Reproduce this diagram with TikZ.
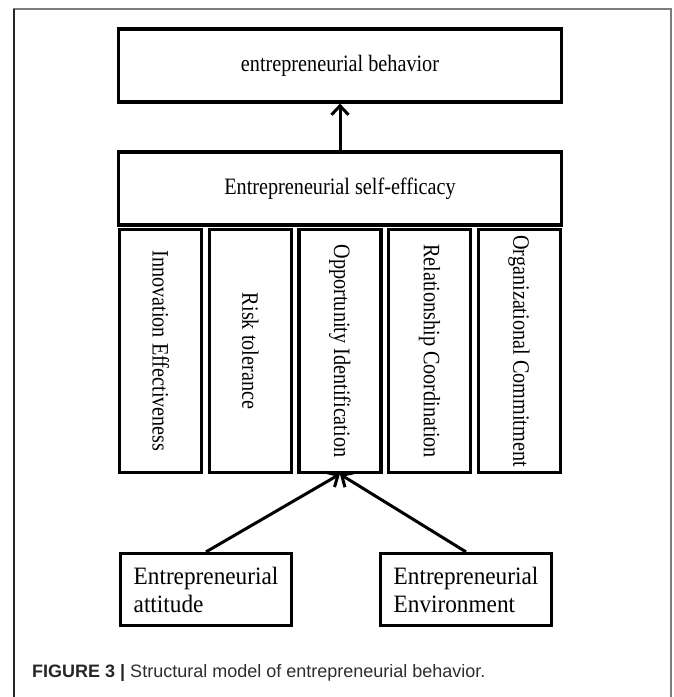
\documentclass[tikz,border=0pt]{standalone}
\usepackage{fontspec}
\setmainfont{Liberation Serif}
\newfontfamily\boxfont{Liberation Serif}[FakeStretch=0.86]
\newfontfamily\srcfont{Liberation Serif}[FakeStretch=0.93]
\newfontfamily\capfont{Liberation Sans}
\usepackage{tikz}
\usetikzlibrary{shapes,arrows,arrows.meta}
\definecolor{framegray}{RGB}{125,125,125}
\definecolor{captext}{RGB}{45,45,45}

\begin{document}
\begin{tikzpicture}
	[
	x = 1pt, y = -1pt,
	box/.style = {draw, line width = 3.2pt, inner sep = 0pt},
	widebox/.style = {box, minimum width = 443pt, minimum height = 73pt, font = \boxfont\fontsize{23.5}{27}\selectfont},
	dimbox/.style = {box, minimum width = 82pt, minimum height = 243pt, font = \boxfont\fontsize{23.5}{27}\selectfont},
	srcbox/.style = {box, minimum width = 171pt, minimum height = 72pt, align = left, font = \srcfont\fontsize{25}{28}\selectfont},
	link/.style = {line width = 3pt, -{Straight Barb[length = 9pt, width = 17pt]}}
	]
	
	\useasboundingbox (0,0) rectangle (673,697);
	
	% page frame, open at the bottom
	\draw [framegray, line width = 1.5pt] (14,697) -- (14,9) -- (671,9) -- (671,697);
	\draw [black!85, line width = 1.5pt] (14,9) -- (14,697);
	
	\node [widebox] (behaviour) at (340,65.5) {entrepreneurial behavior};
	\node [widebox] (efficacy) at (340,188.5) {Entrepreneurial self-efficacy};
	
	\foreach \dimtext [count = \i] in {Innovation Effectiveness, Risk tolerance, Opportunity Identification, Relationship Coordination, Organizational Commitment}
		\node [dimbox] (dim\i) at ({160.7 + 89.6*(\i-1)},351) {\rotatebox{-90}{\dimtext}};
	
	\node [srcbox] (attitude) at (206,589.5) {Entrepreneurial\\attitude};
	\node [srcbox] (environment) at (466,589.5) {Entrepreneurial\\Environment};
	
	\draw [link] (efficacy.north) -- (behaviour.south);
	\draw [link] (attitude.north) -- (dim3.south);
	\draw [link] (environment.north) -- (dim3.south);
	
	\node [anchor = base west, inner sep = 0pt, text = captext, font = \capfont\fontsize{18}{20}\selectfont] (caption) at (32,677)
		{\textbf{\color{black!85}FIGURE 3 |} Structural model of entrepreneurial behavior.};
	
\end{tikzpicture}
\end{document}
